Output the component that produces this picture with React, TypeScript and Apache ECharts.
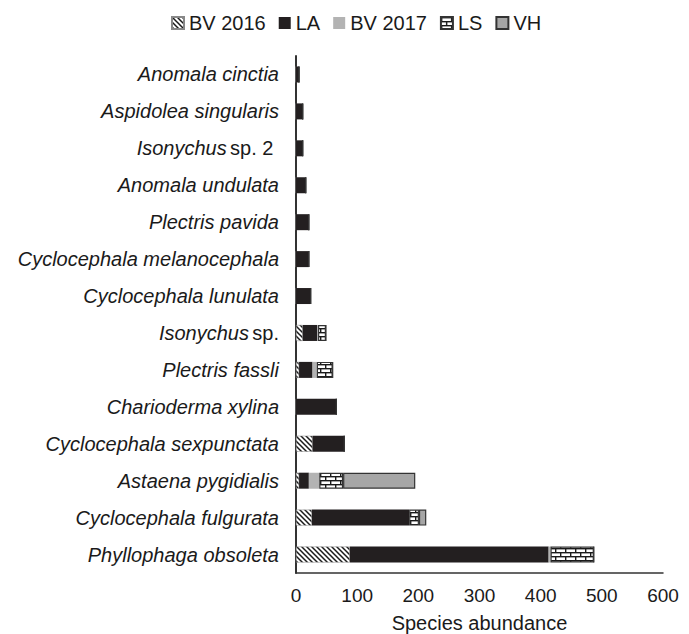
import React, { useEffect, useRef } from "react";
import * as echarts from "echarts";

const categories = [
  "Anomala cinctia",
  "Aspidolea singularis",
  "Isonychus sp. 2",
  "Anomala undulata",
  "Plectris pavida",
  "Cyclocephala melanocephala",
  "Cyclocephala lunulata",
  "Isonychus sp.",
  "Plectris fassli",
  "Charioderma xylina",
  "Cyclocephala sexpunctata",
  "Astaena pygidialis",
  "Cyclocephala fulgurata",
  "Phyllophaga obsoleta",
];

const bv2016 = [0, 0, 0, 0, 0, 0, 0, 11, 5, 0, 27, 5, 26, 88];
const la = [5, 11, 11, 16, 21, 21, 24, 24, 22, 66, 52, 16, 159, 325];
const bv2017 = [0, 0, 0, 0, 0, 0, 0, 1, 7, 0, 0, 17, 0, 3];
const ls = [0, 0, 0, 0, 0, 0, 0, 13, 26, 0, 0, 39, 16, 71];
const vh = [0, 0, 0, 0, 0, 0, 0, 0, 0, 0, 0, 118, 12, 0];

const xTicks = { min: 0, max: 600, interval: 100 };

const hatchSvg =
  '<svg xmlns="http://www.w3.org/2000/svg" width="5" height="5">' +
  '<rect width="5" height="5" fill="#ffffff"/>' +
  '<path d="M-1,-1 L6,6 M-1,4 L1,6 M4,-1 L6,1" stroke="#1a1a1a" stroke-width="1.5"/>' +
  "</svg>";

const brickSvg =
  '<svg xmlns="http://www.w3.org/2000/svg" width="10" height="8">' +
  '<rect width="10" height="8" fill="#ffffff"/>' +
  '<rect x="0" y="0" width="10" height="1.4" fill="#1a1a1a"/>' +
  '<rect x="0" y="4" width="10" height="1.4" fill="#1a1a1a"/>' +
  '<rect x="0" y="0" width="1.4" height="4" fill="#1a1a1a"/>' +
  '<rect x="5" y="4" width="1.4" height="4" fill="#1a1a1a"/>' +
  "</svg>";

const toUrl = (s: string) => "data:image/svg+xml;charset=utf-8," + encodeURIComponent(s);

export default function App() {
  const ref = useRef<HTMLDivElement>(null);

  useEffect(() => {
    document.body.style.margin = "0";
    if (!ref.current) return;
    const chart = echarts.init(ref.current, undefined, { renderer: "svg" });

    const hatch: any = { image: toUrl(hatchSvg), repeat: "repeat", imageWidth: 5, imageHeight: 5 };
    const brick: any = { image: toUrl(brickSvg), repeat: "repeat", imageWidth: 10, imageHeight: 8 };

    const fontFamily = "'Liberation Sans', Arial, sans-serif";

    const mk = (name: string, data: number[], itemStyle: any) => ({
      name,
      type: "bar",
      stack: "total",
      barWidth: 16,
      data,
      itemStyle,
    });

    chart.setOption({
      animation: false,
      textStyle: { fontFamily },
      legend: {
        top: 8,
        left: 166,
        icon: "rect",
        itemWidth: 12,
        itemHeight: 12,
        itemGap: 13,
        textStyle: { fontSize: 20, color: "#1a1a1a", fontFamily },
        data: ["BV 2016", "LA", "BV 2017", "LS", "VH"],
      },
      grid: {
        left: 296,
        right: 26,
        top: 56,
        bottom: 61,
        containLabel: false,
        outerBoundsMode: "none",
      },
      xAxis: {
        type: "value",
        min: xTicks.min,
        max: xTicks.max,
        interval: xTicks.interval,
        splitLine: { show: false },
        axisTick: { show: false },
        axisLine: { show: true, lineStyle: { color: "#333", width: 1.5 } },
        axisLabel: { fontSize: 19, color: "#1a1a1a", margin: 13, fontFamily },
        name: "Species abundance",
        nameLocation: "middle",
        nameGap: 40,
        nameTextStyle: { fontSize: 20, color: "#1a1a1a", fontFamily },
      },
      yAxis: {
        type: "category",
        inverse: true,
        data: categories,
        axisTick: { show: false },
        axisLine: { show: true, lineStyle: { color: "#333", width: 2 } },
        axisLabel: {
          margin: 17,
          formatter: (v: string) => {
            const m = v.match(/^(.*?) (sp\..*)$/);
            if (m) return "{i|" + m[1] + "} {n|" + m[2] + (m[2] === "sp. 2" ? " " : "") + "}";
            return "{i|" + v + "}";
          },
          rich: {
            i: { fontSize: 20, fontStyle: "italic", color: "#1a1a1a", fontFamily },
            n: { fontSize: 20, fontStyle: "normal", color: "#1a1a1a", fontFamily },
          },
        },
      },
      series: [
        mk("BV 2016", bv2016, { color: hatch, borderColor: "#888", borderWidth: 0.5 }),
        mk("LA", la, { color: "#231f20" }),
        mk("BV 2017", bv2017, { color: "#b3b3b3" }),
        mk("LS", ls, { color: brick, borderColor: "#333", borderWidth: 1.2 }),
        mk("VH", vh, { color: "#a6a6a6", borderColor: "#333", borderWidth: 1.2 }),
      ],
    });

    return () => chart.dispose();
  }, []);

  return <div ref={ref} style={{ width: 689, height: 634 }} />;
}
